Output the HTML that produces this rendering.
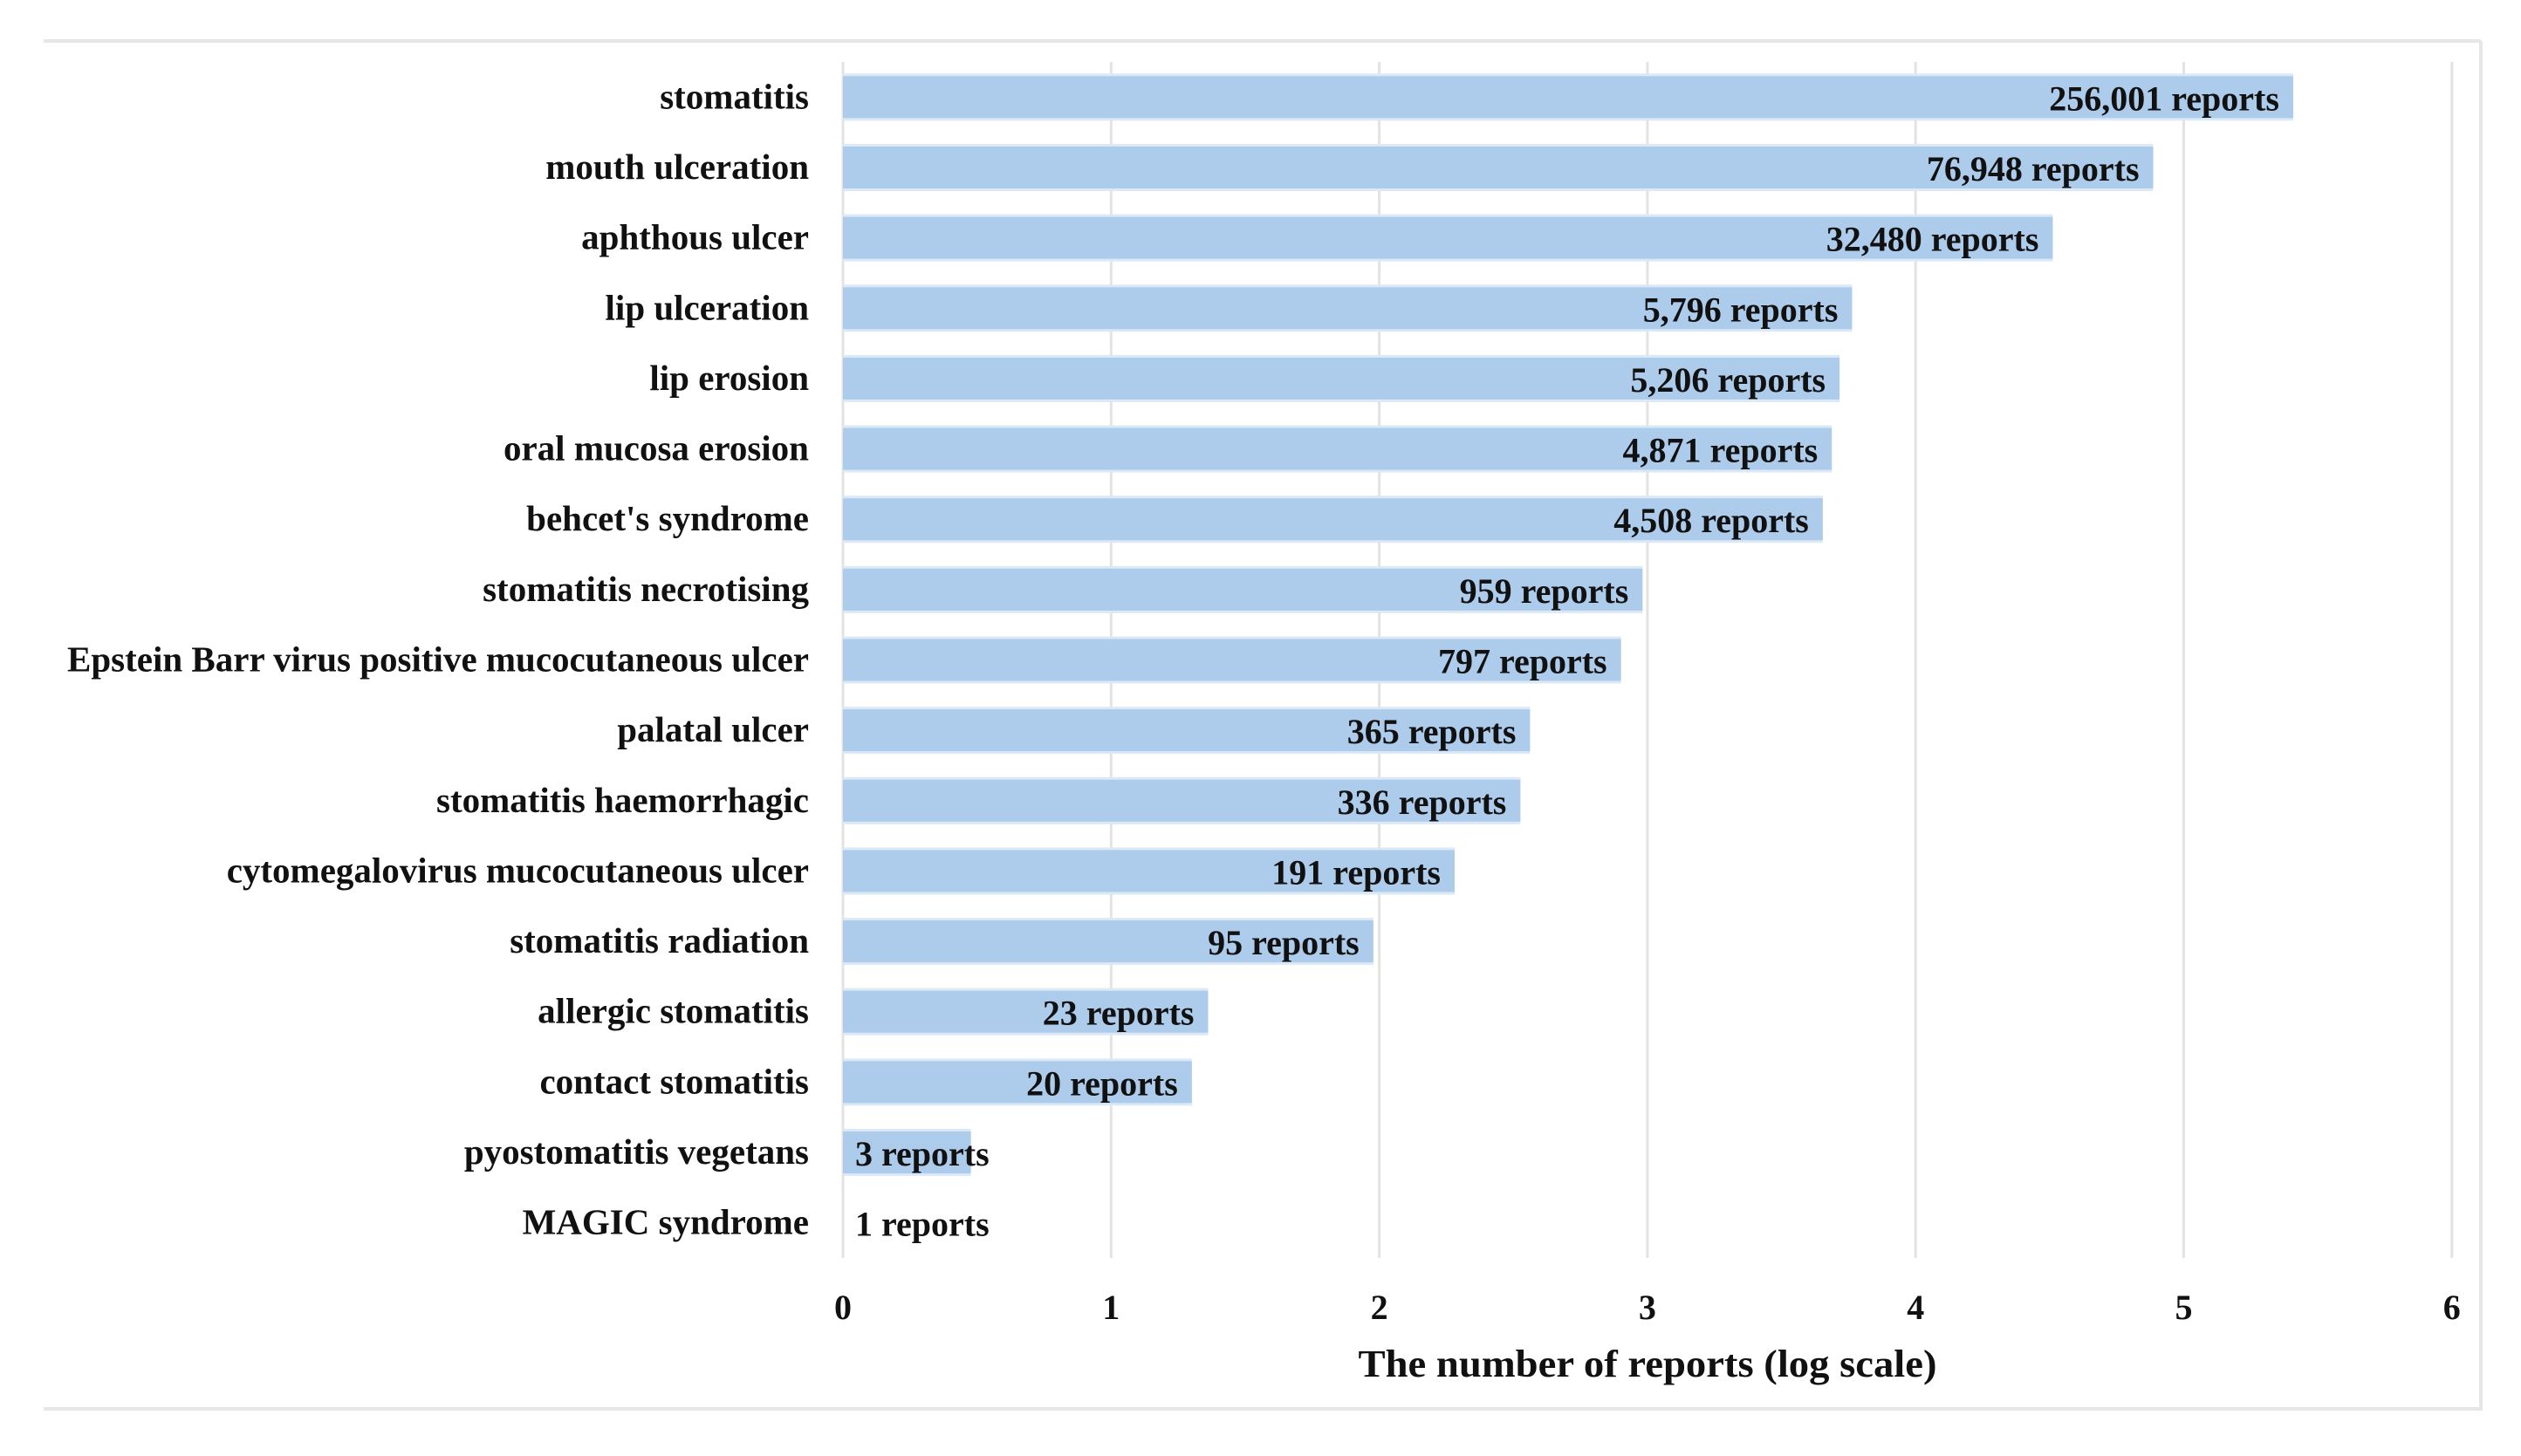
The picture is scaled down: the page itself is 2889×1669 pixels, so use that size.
<!DOCTYPE html>
<html><head><meta charset="utf-8"><style>html,body{margin:0;padding:0;background:#fff}svg{display:block}</style></head>
<body>
<svg id="chart" width="2889" height="1669" viewBox="0 0 2889 1669" xmlns="http://www.w3.org/2000/svg" font-family="'Liberation Serif', serif" font-weight="bold">
<rect width="2889" height="1669" fill="#fff"/>
<line x1="50" y1="47" x2="2843" y2="47" stroke="#e6e6e6" stroke-width="4"/>
<line x1="50" y1="1615" x2="2845" y2="1615" stroke="#e6e6e6" stroke-width="4"/>
<line x1="2843" y1="47" x2="2843" y2="1615" stroke="#e6e6e6" stroke-width="4"/>
<g id="grid"></g>
<g id="bars"></g>
<g id="cats"></g>
<g id="vals"></g>
<g id="ticks"></g>
<text x="1888" y="1578" font-size="44" text-anchor="middle" textLength="663" lengthAdjust="spacingAndGlyphs" fill="#111">The number of reports (log scale)</text>
</svg>
<script>
const categories = ["stomatitis","mouth ulceration","aphthous ulcer","lip ulceration","lip erosion","oral mucosa erosion","behcet's syndrome","stomatitis necrotising","Epstein Barr virus positive mucocutaneous ulcer","palatal ulcer","stomatitis haemorrhagic","cytomegalovirus mucocutaneous ulcer","stomatitis radiation","allergic stomatitis","contact stomatitis","pyostomatitis vegetans","MAGIC syndrome"];
const reports = [256001,76948,32480,5796,5206,4871,4508,959,797,365,336,191,95,23,20,3,1];
const tickLabels = ["0","1","2","3","4","5","6"];

const NS = "http://www.w3.org/2000/svg";
const x0 = 966, unit = 307.3, yTop = 71, yBot = 1442;
const band = (yBot - yTop) / categories.length;
function xScale(v){ return x0 + v * unit; }
function yCenter(i){ return yTop + band * (i + 0.5); }
function mk(tag, attrs, parent){ const e = document.createElementNS(NS, tag); for (const k in attrs) e.setAttribute(k, attrs[k]); parent.appendChild(e); return e; }

const grid = document.getElementById('grid'), ticks = document.getElementById('ticks');
tickLabels.forEach((t, i) => {
  const l = mk('line', {x1: xScale(+t), x2: xScale(+t), y1: yTop, y2: yBot, stroke: '#e3e3e3', 'stroke-width': 3}, grid);
  
  
  const tx = mk('text', {x: xScale(+t), y: 1512, 'font-size': 40, 'text-anchor': 'middle', fill: '#111'}, ticks);
  tx.textContent = t;
  
  
});

const bars = document.getElementById('bars'), cats = document.getElementById('cats'), vals = document.getElementById('vals');
const bh = 48;
categories.forEach((c, i) => {
  const v = Math.log10(reports[i]);
  const cy = yCenter(i);
  const w = xScale(v) - x0;
  if (w > 0) {
    const edge = mk('rect', {x: x0, y: cy - bh/2 - 3, width: w, height: bh + 6, fill: '#dbe8f6'}, bars);
    
    
    const r = mk('rect', {x: x0, y: cy - bh/2, width: w, height: bh, fill: '#adcbea'}, bars);
    
    
  }
  const lab = mk('text', {x: 927, y: cy + 13, 'font-size': 41, 'text-anchor': 'end', fill: '#111'}, cats);
  lab.textContent = c;
  
  
  const txt = reports[i].toLocaleString('en-US') + ' reports';
  const small = v < 0.7;
  const vl = mk('text', {x: small ? x0 + 14 : xScale(v) - 16, y: cy + 15, 'font-size': 40, 'text-anchor': small ? 'start' : 'end', fill: '#111'}, vals);
  vl.textContent = txt;
  
  
});
</script>
</body></html>
